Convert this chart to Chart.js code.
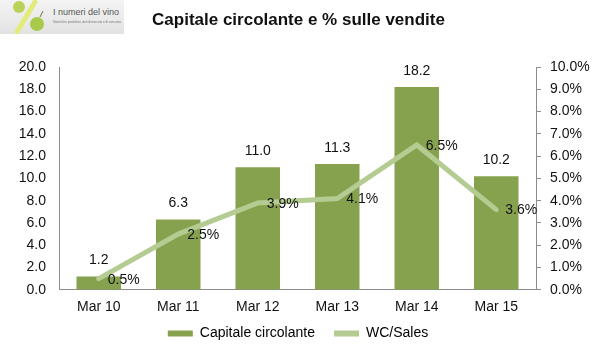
<!DOCTYPE html>
<html>
<head>
<meta charset="utf-8">
<script src="https://cdn.jsdelivr.net/npm/chart.js@4.4.1/dist/chart.umd.min.js"></script>
<style>
    html, body { margin: 0; padding: 0; background: #fff; }
    #wrap { position: relative; width: 596px; height: 353px; font-family: "Liberation Sans", Arial, sans-serif; }
    #chart { position: absolute; left: 0; top: 0; }
    #logo {
        position: absolute; left: 0; top: 0; width: 124px; height: 34px;
        background: linear-gradient(to bottom, #f4f4f4, #e2e2e2);
    }
    #logo .name { position: absolute; left: 53px; top: 7px; font-size: 9px; color: #555; white-space: nowrap; }
    #logo .sub { position: absolute; left: 53px; top: 20px; font-size: 3px; color: #777; white-space: nowrap; }
    #title {
        position: absolute; left: 0; width: 597px; top: 10px; text-align: center;
        font-size: 17px; font-weight: bold; color: #111;
    }
</style>
</head>
<body>
<div id="wrap">
    <canvas id="chart" width="596" height="353"></canvas>
    <div id="logo">
        <svg width="50" height="34" style="position:absolute;left:0;top:0">
            <circle cx="19" cy="7" r="6" fill="#b9d35a"/>
            <line x1="35" y1="2" x2="17" y2="32" stroke="#e3ec7a" stroke-width="5" stroke-linecap="round"/>
            <circle cx="37" cy="24" r="7" fill="#a8c94a"/>
            <line x1="40" y1="17" x2="43" y2="11" stroke="#7a6a3a" stroke-width="1"/>
        </svg>
        <div class="name">I numeri del vino</div>
        <div class="sub">Statistiche produttive, dati di mercato e di consumo.</div>
    </div>
    <div id="title">Capitale circolante e % sulle vendite</div>
</div>
<script>
// Dati del grafico
const categories = ['Mar 10', 'Mar 11', 'Mar 12', 'Mar 13', 'Mar 14', 'Mar 15'];
const capitaleCircolante = [1.2, 6.3, 11.0, 11.3, 18.2, 10.2];
const wcSales = [0.5, 2.5, 3.9, 4.1, 6.5, 3.6];
const leftTicks = [0, 2, 4, 6, 8, 10, 12, 14, 16, 18, 20];
const rightTicks = [0, 1, 2, 3, 4, 5, 6, 7, 8, 9, 10];

const barColor = '#87a24f';
const lineColor = '#b4cb91';
const axisColor = '#8c8c8c';
const fontBase = { family: '"Liberation Sans", Arial, sans-serif', size: 14 };

// Etichette dei valori
const valueLabels = {
    id: 'valueLabels',
    afterLayout(chart) {
        // allarga l'area di ritaglio dell'asse x: le etichette scendono sotto il box
        chart.scales.x.bottom += 14;
    },
    afterDatasetsDraw(chart) {
        const ctx = chart.ctx;
        ctx.save();
        ctx.font = '14px "Liberation Sans", Arial, sans-serif';
        ctx.fillStyle = '#111';
        ctx.textBaseline = 'middle';

        chart.getDatasetMeta(0).data.forEach((bar, i) => {
            ctx.textAlign = 'center';
            ctx.fillText(capitaleCircolante[i].toFixed(1), bar.x, bar.y - 16);
        });
        chart.getDatasetMeta(1).data.forEach((pt, i) => {
            ctx.textAlign = 'left';
            ctx.fillText(wcSales[i].toFixed(1) + '%', pt.x + 9, pt.y + 1);
        });
        ctx.restore();
    }
};

new Chart(document.getElementById('chart'), {
    type: 'bar',
    data: {
        labels: categories,
        datasets: [{
            label: 'Capitale circolante',
            data: capitaleCircolante,
            backgroundColor: barColor,
            borderWidth: 0,
            categoryPercentage: 0.56,
            barPercentage: 1,
            yAxisID: 'y',
            order: 2
        }, {
            type: 'line',
            label: 'WC/Sales',
            data: wcSales,
            borderColor: lineColor,
            backgroundColor: lineColor,
            borderWidth: 5,
            borderCapStyle: 'round',
            pointRadius: 0,
            tension: 0,
            yAxisID: 'y1',
            order: 1
        }]
    },
    options: {
        responsive: false,
        animation: false,
        layout: { padding: { top: 67, left: 0, right: 0, bottom: 2.6 } },
        plugins: {
            legend: {
                position: 'bottom',
                labels: {
                    color: '#111',
                    font: fontBase,
                    boxWidth: 25,
                    boxHeight: 6,
                    padding: 19,
                    generateLabels: (chart) => chart.data.datasets.map((ds, i) => ({
                        text: ds.label,
                        fillStyle: i === 0 ? barColor : lineColor,
                        strokeStyle: i === 0 ? barColor : lineColor,
                        lineWidth: 0,
                        datasetIndex: i
                    }))
                }
            },
            tooltip: { enabled: false }
        },
        scales: {
            x: {
                afterFit: (scale) => { scale.height = 17.6; },
                grid: { display: false, drawTicks: false },
                border: { color: axisColor, width: 1 },
                ticks: { color: '#111', font: fontBase, padding: 9, autoSkip: false, maxRotation: 0 }
            },
            y: {
                position: 'left',
                min: 0,
                max: 20,
                afterBuildTicks: (scale) => { scale.ticks = leftTicks.map(v => ({ value: v })); },
                afterFit: (scale) => { scale.width = 59; },
                grid: { display: false, drawTicks: false },
                border: { color: axisColor, width: 1 },
                ticks: {
                    color: '#111',
                    font: fontBase,
                    padding: 13,
                    callback: (v) => Number(v).toFixed(1)
                }
            },
            y1: {
                position: 'right',
                min: 0,
                max: 10,
                afterBuildTicks: (scale) => { scale.ticks = rightTicks.map(v => ({ value: v })); },
                afterFit: (scale) => { scale.width = 60; },
                grid: { display: true, drawOnChartArea: false, color: axisColor, tickLength: 5 },
                border: { color: axisColor, width: 1 },
                ticks: {
                    color: '#111',
                    font: fontBase,
                    padding: 9,
                    callback: (v) => Number(v).toFixed(1) + '%'
                }
            }
        }
    },
    plugins: [valueLabels]
});
</script>
</body>
</html>
